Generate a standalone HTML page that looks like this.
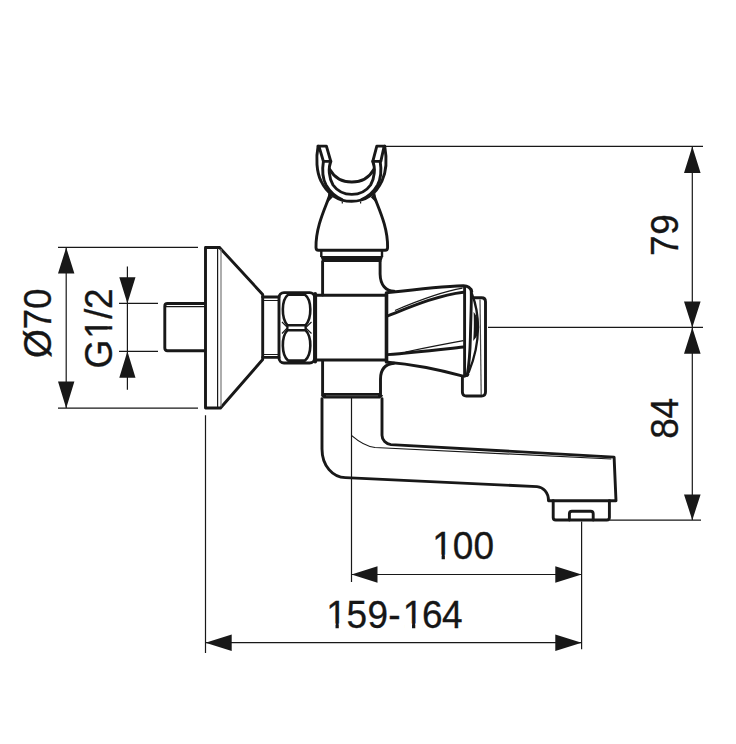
<!DOCTYPE html>
<html><head><meta charset="utf-8">
<style>
html,body{margin:0;padding:0;background:#fff;width:736px;height:744px;overflow:hidden}
svg{display:block}
.tx text{font-family:"Liberation Sans",sans-serif;font-size:37px;fill:#161616;stroke:#161616;stroke-width:0.3}
.cv rect{fill:#fff;stroke:none}
.k{fill:none;stroke:#181818;stroke-width:2.9;stroke-linejoin:round;stroke-linecap:round}
.t{fill:none;stroke:#181818;stroke-width:1.2}
.a{fill:#181818;stroke:none}
</style></head>
<body>
<svg width="736" height="744" viewBox="0 0 736 744">
<!-- ===== dimensions: O70 ===== -->
<g class="t">
<path d="M58,247.4H198M58,408.2H198M66.2,247.4V408.2"/>
<path d="M119,303.4H158M119,351.4H158M127.4,266.6V389.7"/>
<path d="M386,146.4H703M488,327.4H703M609.4,520.2H701M692.3,146.4V520.2"/>
<path d="M351.5,397V582M581.6,521.5V649.3M205.5,415.3V652.9"/>
<path d="M351.5,574.5H581.6M205.5,642.7H581.6"/>
</g>
<g class="a">
<path d="M66.2,247.5L58,273.5H74.4Z M66.2,408.2L58,381.6H74.4Z"/>
<path d="M127.4,303.4L119.3,277.3H135.5Z M127.4,351.3L119.3,377.8H135.5Z"/>
<path d="M692.3,146.4L684,173H700.6Z M692.3,327.4L684,301.4H700.6Z M692.3,327.4L684,353.7H700.6Z M692.3,520.2L684,494.4H700.6Z"/>
<path d="M351.5,574.5L377.5,566.3V582.7Z M581.6,574.5L555.3,566.3V582.7Z"/>
<path d="M205.5,642.7L231.7,634.5V650.9Z M581.6,642.7L555.3,634.5V650.9Z"/>
</g>

<g class="tx">
<text transform="translate(50.8,358.1) rotate(-90) scale(1,1.045)" x="0.00 28.60 49.15" y="0">Ø70</text>
<text transform="translate(111.8,368.6) rotate(-90) scale(1,1.045)" x="0.00 29.81 49.60 59.70" y="0">G1/2</text>
<g class="cv" transform="translate(111.8,368.6) rotate(-90) scale(1,1.045)"><rect x="31.43" y="-4.16" width="7.69" height="5.76"/><rect x="42.38" y="-4.16" width="7.40" height="5.76"/></g>
<text transform="translate(677.6,255.9) rotate(-90) scale(1,1.045)" x="0.00 21.10" y="0">79</text>
<text transform="translate(677.6,438.8) rotate(-90) scale(1,1.045)" x="0.00 20.30" y="0">84</text>
<text transform="translate(0,558.9) scale(1,1.045)" x="432.31 452.75 473.55" y="0">100</text>
<g class="cv" transform="translate(0,558.9) scale(1,1.045)"><rect x="433.93" y="-4.16" width="7.69" height="5.76"/><rect x="444.88" y="-4.16" width="7.40" height="5.76"/></g>
<text transform="translate(0,627.8) scale(1,1.045)" x="326.21 346.50 367.50 388.20 402.71 421.90 441.95" y="0">159-164</text>
<g class="cv" transform="translate(0,627.8) scale(1,1.045)"><rect x="327.83" y="-4.16" width="7.69" height="5.76"/><rect x="338.78" y="-4.16" width="7.40" height="5.76"/><rect x="404.33" y="-4.16" width="7.69" height="5.76"/><rect x="415.28" y="-4.16" width="7.40" height="5.76"/></g>
</g>
<!-- ===== faucet ===== -->
<!-- pipe stub -->
<path class="k" d="M205,303.5H167.5Q164.8,303.5 164.8,306.2V348.1Q164.8,350.8 167.5,350.8H205"/>
<path class="t" d="M166,306.6H205"/>
<!-- flange -->
<path class="k" d="M219.5,247.5H205.5V408H220.5L262.7,359.5V294.5L219.5,247.5"/>
<path class="t" d="M217.6,248V407.5"/>
<path class="t" style="stroke:#777" d="M221,249V406.5"/>
<!-- connector -->
<path class="k" d="M262.7,297H279M262.7,357.4H279"/>
<path class="t" d="M263,300.5H279M263,354.5H279"/>
<!-- nut -->
<rect class="k" x="279" y="292.6" width="35.6" height="70.4" rx="5"/>
<path class="k" style="stroke-width:2.6" d="M288,294.8H305C311.8,300 312.2,318 305.5,325.3H287.5C281,318 281.4,300 288,294.8Z"/>
<path class="k" style="stroke-width:2.6" d="M287.5,330.2H305.5C312.2,337 311.8,355 305,360.6H288C281.4,355 281,337 287.5,330.2Z"/>
<path class="k" style="stroke-width:2" d="M287.5,325.3V330.2M305.5,325.3V330.2"/>
<path class="t" d="M282,322L287.5,327.7L282,333.5M311.5,322L305.5,327.7L311.5,333.5"/>
<path class="k" style="stroke-width:3.8" d="M315.2,294V361.5"/>
<!-- body -->
<path class="k" d="M315.5,295.3H386.5M315.5,360H386"/>
<path class="k" style="stroke-width:3.6" d="M386.5,293V362"/>
<!-- upper neck -->
<path class="k" d="M322.6,261.5V295"/>
<path class="k" d="M380.1,261.5V274C380.3,285 386,291.3 394,291.3"/>
<!-- band -->
<path class="k" style="stroke-width:2.4;stroke-linecap:butt" d="M321.3,251V257M382,251V257"/>
<path class="a" d="M320.3,256H383.2L381.2,262H322.6Z"/>
<!-- dome -->
<path class="k" d="M329.7,195.2C326,206.5 315.6,226 316,247.5Q316,250.3 318.5,250.3H385.1Q387.6,250.3 387.6,247.5C388,226 377.6,206.5 373.9,195.2"/>
<path class="a" d="M328.3,193L332.8,197.3L327.6,202.5Z M375.3,193L370.8,197.3L376,202.5Z"/>
<path class="t" d="M342.3,201.5V203.5M360.6,201.5V203.5"/>
<!-- shower holder -->
<path class="k" d="M318.1,146.1C315.8,158 316.5,172 321,181C327,194 338,201.3 351.6,201.3C365.2,201.3 376,194 382,181C386.3,172 386.8,158 384.7,146.1"/>
<path class="k" d="M318.1,146.1H326.4L330.8,161.4H323.4L319.4,147.9"/>
<path class="k" d="M384.7,146.1H376.8L372.8,161.4H380.8L383.8,147.9"/>
<path class="k" d="M323.4,161.4C322,170 322.5,178 326,185C330,192 336,197 342,199.5"/>
<path class="k" d="M380.2,161.4C381.6,170 381.1,178 377.6,185C373.6,192 367.6,197 361.6,199.5"/>
<path class="k" d="M330.8,161.4C328,168 329,178 333,185C338,192 344,194.4 351.8,194.4C359.6,194.4 365.6,192 370.6,185C374.6,178 375.6,168 372.8,161.4"/>
<path class="k" d="M329.8,169.5C334,177 342,182 351.8,182C361.6,182 369.6,177 373.8,169.5"/>
<!-- handle -->
<path class="k" d="M387.6,292.6C410,290 440,286.5 463.4,285.7Q470,285.8 471.8,291.4"/>
<path class="k" d="M387.6,316C408,308 438,295 463.4,292.2"/>
<path class="t" d="M395,310.5C415,302 440,292 462.5,288.2"/>
<path class="k" d="M387.6,354.6C415,352.5 440,349.5 463.4,347"/>
<path class="t" d="M405.5,352C425,348 445,344 463.4,340.7"/>
<path class="k" d="M388,362.3C415,364.5 440,370 463,376.1Q467,376.3 468,374.2"/>
<path class="k" d="M464.6,287.5V376"/>
<path class="k" d="M471.1,289.5C471.8,296 471,310 470.4,337C470,355 468.5,368 467.2,375.2"/>
<path class="k" style="stroke-width:2.3" d="M472,294C479,312 482,340 468.8,372"/>
<path class="a" d="M473.6,312C477,316 479.2,322 479.2,327C479.2,332 477,337 473.2,341C474,332 474,320 473.6,312Z"/>
<!-- back plate -->
<path class="k" d="M473,297.7H481.5Q485.5,297.7 485.5,301.7V392Q485.5,396 481.5,396H466.4Q462.4,396 462.4,392V377"/>
<path class="t" style="stroke:#444" d="M480,299.5L481.2,395"/>
<!-- lower neck -->
<path class="k" d="M322.6,361V394.2"/>
<path class="k" d="M380.5,394.2V379C380.5,369 386,364 394,363.2"/>
<path class="a" d="M320.8,395.8L323.8,393.1H380L383.2,395.8L380,398.5H323.8Z"/>
<path style="stroke:#555;stroke-width:1;fill:none" d="M326,395.8H378"/>
<!-- spout -->
<path class="k" d="M322,398.6V449C322,466 333,477.6 345.4,477.6L537,486.6C543,487.2 548.5,492 548.5,500.8H616L614.1,457.1L390.9,444.6C386,444 382,440 382,435.2V398.6"/>
<path class="t" d="M351.7,435.6C358,441 366,446.5 375,447.5L611.3,459"/>
<!-- aerator -->
<path class="k" d="M553.2,500.8V517.5Q553.2,520 555.7,520H606.9Q609.4,520 609.4,517.5V500.8"/>
<path class="k" d="M569.4,520V513.8Q569.4,511.3 571.9,511.3H590.7Q593.2,511.3 593.2,513.8V520"/>
</svg>
</body></html>
